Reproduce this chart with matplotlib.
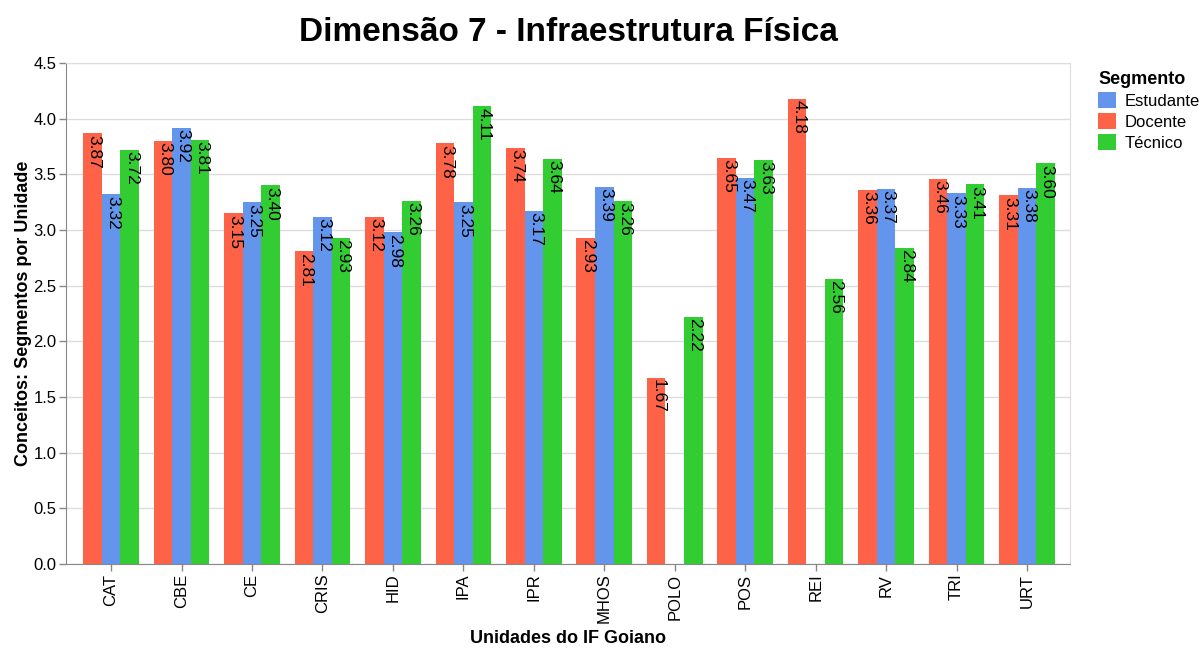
"""Dimensão 7 - Infraestrutura Física: grouped bars per unit and segment."""

import matplotlib

matplotlib.use("Agg")
import matplotlib.pyplot as plt
import numpy as np
from matplotlib.patches import Patch

plt.rcParams["font.family"] = ["Liberation Sans", "DejaVu Sans"]

unidades = ["CAT", "CBE", "CE", "CRIS", "HID", "IPA", "IPR",
            "MHOS", "POLO", "POS", "REI", "RV", "TRI", "URT"]
docente = [3.87, 3.80, 3.15, 2.81, 3.12, 3.78, 3.74,
           2.93, 1.67, 3.65, 4.18, 3.36, 3.46, 3.31]
estudante = [3.32, 3.92, 3.25, 3.12, 2.98, 3.25, 3.17,
             3.39, None, 3.47, None, 3.37, 3.33, 3.38]
tecnico = [3.72, 3.81, 3.40, 2.93, 3.26, 4.11, 3.64,
           3.26, 2.22, 3.63, 2.56, 2.84, 3.41, 3.60]

# bar order inside each group, and legend order
series = [("Docente", docente, "#FF6347"),
          ("Estudante", estudante, "#6495ED"),
          ("Técnico", tecnico, "#32CD32")]
legend_order = ["Estudante", "Docente", "Técnico"]

fig = plt.figure(figsize=(12.02, 6.48), dpi=100)
ax = fig.add_axes([66 / 1202, 1 - 564 / 648, (1070 - 66) / 1202, (564 - 63) / 648])

x = np.arange(len(unidades))
width = 0.79 / 3
for i, (name, vals, color) in enumerate(series):
    offs = (i - 1) * width
    for xi, v in zip(x, vals):
        if v is None:
            continue
        ax.bar(xi + offs, v, width=width, color=color, linewidth=0, zorder=2)
        ax.annotate(f"{v:.2f}", xy=(xi + offs, v), xytext=(-2, -1),
                    textcoords="offset points", rotation=-90,
                    rotation_mode="anchor", ha="left", va="baseline",
                    fontsize=12.5, color="black", zorder=3)

ax.set_xlim(-0.64, len(unidades) - 1 + 0.61)
ax.set_ylim(0, 4.5)
ax.set_yticks(np.arange(0, 4.51, 0.5))
ax.set_yticklabels([f"{t:.1f}" for t in np.arange(0, 4.51, 0.5)])
ax.set_xticks(x)
ax.set_xticklabels(unidades, rotation=90)

ax.grid(True, axis="y", color="#dddddd", linewidth=1, zorder=0)
ax.set_axisbelow(True)
for side in ["top", "right"]:
    ax.spines[side].set_color("#dddddd")
for side in ["left", "bottom"]:
    ax.spines[side].set_color("#888888")
ax.tick_params(axis="both", colors="#888888", labelcolor="black",
               labelsize=12, length=5, width=1, pad=2)

ax.set_xlabel("Unidades do IF Goiano", fontsize=13, fontweight="bold", labelpad=5)
ax.set_ylabel("Conceitos: Segmentos por Unidade", fontsize=13,
              fontweight="bold", labelpad=1)
fig.suptitle("Dimensão 7 - Infraestrutura Física", x=(66 + 1070) / 2 / 1202,
             y=0.973, fontsize=24, fontweight="bold")

colors = {name: color for name, _, color in series}
handles = [Patch(facecolor=colors[n], edgecolor="none", label=n) for n in legend_order]
leg = fig.legend(handles=handles, title="Segmento", loc="upper left",
                 bbox_to_anchor=(1083 / 1202, 1 - 56 / 648), frameon=False,
                 fontsize=12, handlelength=1.1, handleheight=1.1,
                 handletextpad=0.5, labelspacing=0.25, alignment="left",
                 title_fontproperties={"weight": "bold", "size": 13})

fig.savefig("out.png", dpi=100)
